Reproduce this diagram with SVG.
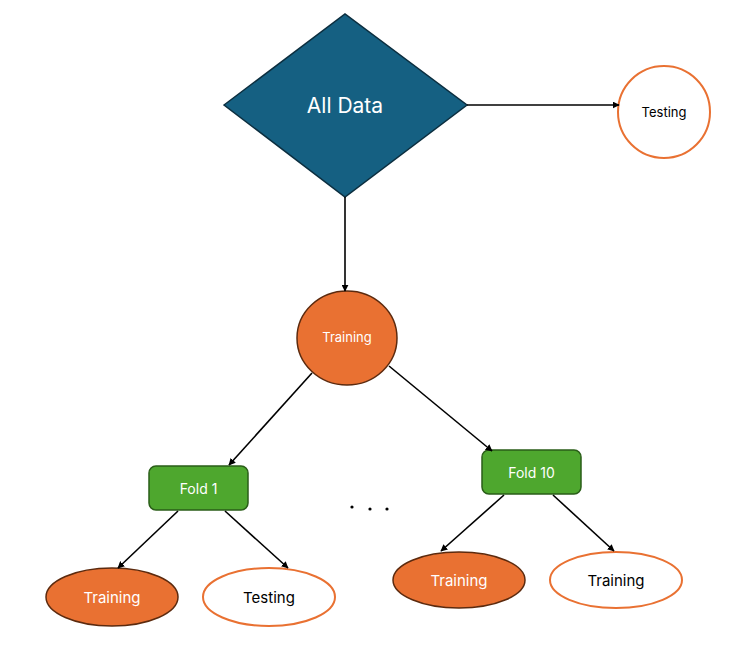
<svg xmlns="http://www.w3.org/2000/svg" width="736" height="670" viewBox="0 0 736 670">
<defs>
<marker id="ah" viewBox="0 0 10 10" refX="9" refY="5" markerWidth="7" markerHeight="7" markerUnits="userSpaceOnUse" orient="auto">
<path d="M0,0 L10,5 L0,10 Z" fill="#000"/>
</marker>
</defs>
<style>
.c{stroke:#000;stroke-width:1.6;fill:none;marker-end:url(#ah)}
.t{font-family:Inter,"Open Sans","Liberation Sans",sans-serif;text-anchor:middle;dominant-baseline:central}
.of{fill:#E97132;stroke:#5C2A0E;stroke-width:1.5}
.ow{fill:#fff;stroke:#E97132;stroke-width:2}
.g{fill:#4EA72E;stroke:#2A5E18;stroke-width:1.5}
.w{fill:#fff}
.k{fill:#000}
</style>
<rect width="736" height="670" fill="#fff"/>
<g id="all-data">
<polygon points="224,105 345,14 467,105 345,197" fill="#156082" stroke="#0B2E3F" stroke-width="1.5"/>
<text class="t w" x="345" y="105" font-size="21">All Data</text>
</g>
<g id="testing-top">
<circle class="ow" cx="664" cy="112" r="46"/>
<text class="t k" x="664" y="112" font-size="13">Testing</text>
</g>
<g id="training-main">
<ellipse class="of" cx="347" cy="338" rx="50" ry="47"/>
<text class="t w" x="347" y="337" font-size="13">Training</text>
</g>
<g id="fold1">
<rect class="g" x="149" y="466" width="99" height="44" rx="7"/>
<text class="t w" x="198.5" y="488" font-size="14">Fold 1</text>
</g>
<g id="fold10">
<rect class="g" x="482" y="450" width="99" height="44" rx="7"/>
<text class="t w" x="531.5" y="472" font-size="14">Fold 10</text>
</g>
<g id="dots">
<circle cx="352" cy="507" r="1.6" fill="#000"/>
<circle cx="370" cy="509" r="1.6" fill="#000"/>
<circle cx="387" cy="509" r="1.6" fill="#000"/>
</g>
<g id="f1-training">
<ellipse class="of" cx="112" cy="597" rx="66" ry="29"/>
<text class="t w" x="112" y="597" font-size="15">Training</text>
</g>
<g id="f1-testing">
<ellipse class="ow" cx="269" cy="597" rx="66" ry="29"/>
<text class="t k" x="269" y="597" font-size="15">Testing</text>
</g>
<g id="f10-training">
<ellipse class="of" cx="459" cy="580" rx="66" ry="28"/>
<text class="t w" x="459" y="580" font-size="15">Training</text>
</g>
<g id="f10-training2">
<ellipse class="ow" cx="616" cy="580" rx="66" ry="28"/>
<text class="t k" x="616" y="580" font-size="15">Training</text>
</g>
<g id="connectors">
<line class="c" x1="467" y1="105" x2="619" y2="105"/>
<line class="c" x1="345" y1="197" x2="345" y2="291"/>
<line class="c" x1="312" y1="373" x2="229" y2="465"/>
<line class="c" x1="389" y1="366" x2="492" y2="451"/>
<line class="c" x1="178" y1="511" x2="118" y2="568"/>
<line class="c" x1="225" y1="511" x2="288" y2="568"/>
<line class="c" x1="504" y1="495" x2="441" y2="551"/>
<line class="c" x1="553" y1="495" x2="614" y2="551"/>
</g>
</svg>
